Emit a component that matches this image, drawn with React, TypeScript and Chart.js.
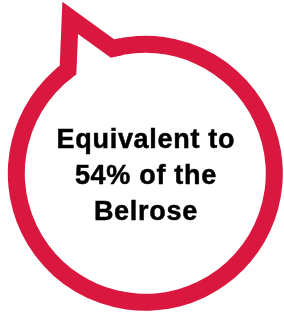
import React, { useEffect, useRef } from "react";
import { Chart, registerables } from "chart.js";

Chart.register(...registerables);

// Ring segments (degrees): the opening under the tail and the drawn outline
const segmentLabels = ["Opening", "Outline"];
const segmentValues = [22.1, 337.9];

// Callout text
const calloutLines = ["Equivalent to", "54% of the", "Belrose"];

const RED = "#d9173f";

const bubblePlugin = {
  id: "bubbleTail",
  afterDatasetsDraw(chart: any) {
    const arc = chart.getDatasetMeta(0).data[0];
    if (!arc) return;
    const { x, y, outerRadius, innerRadius } = arc.getProps(
      ["x", "y", "outerRadius", "innerRadius"],
      true
    );
    const ctx = chart.ctx;
    const mid = (outerRadius + innerRadius) / 2;
    const width = outerRadius - innerRadius;
    const rad = (d: number) => (d * Math.PI) / 180;
    const leftA = rad(-126.8);
    const rightA = rad(-104.7);
    const tipA = rad(-115.8);
    const tipR = outerRadius * 1.255;

    ctx.save();
    ctx.strokeStyle = RED;
    ctx.lineWidth = width;
    ctx.lineJoin = "miter";
    ctx.miterLimit = 20;
    ctx.lineCap = "butt";
    ctx.beginPath();
    ctx.arc(x, y, mid, leftA - rad(4), leftA, false);
    ctx.lineTo(x + Math.cos(tipA) * tipR, y + Math.sin(tipA) * tipR);
    ctx.lineTo(x + Math.cos(rightA) * mid, y + Math.sin(rightA) * mid);
    ctx.arc(x, y, mid, rightA, rightA + rad(4), false);
    ctx.stroke();
    ctx.restore();

    // centred callout text
    ctx.save();
    const size = 27;
    const lh = 36;
    ctx.fillStyle = "#000";
    ctx.strokeStyle = "#000";
    ctx.lineWidth = 0.5;
    ctx.font = `bold ${size}px "Liberation Sans", Arial, sans-serif`;
    ctx.textAlign = "center";
    ctx.textBaseline = "alphabetic";
    try {
      (ctx as any).letterSpacing = "0.7px";
    } catch (e) {}
    const n = calloutLines.length;
    calloutLines.forEach((line, i) => {
      const by = y + (i - (n - 1) / 2) * lh + size * 0.716 / 2 + 1.2;
      ctx.fillText(line, x + 0.6, by);
      ctx.strokeText(line, x + 0.6, by);
    });
    ctx.restore();
  },
};

export default function App() {
  const ref = useRef<HTMLCanvasElement | null>(null);

  useEffect(() => {
    document.body.style.margin = "0";
    const canvas = ref.current;
    if (!canvas) return;
    const chart = new Chart(canvas, {
      type: "doughnut",
      data: {
        labels: segmentLabels,
        datasets: [
          {
            data: segmentValues,
            backgroundColor: ["rgba(0,0,0,0)", RED],
            borderWidth: 0,
            hoverOffset: 0,
          },
        ],
      },
      options: {
        animation: false,
        responsive: false,
        events: [],
        rotation: -36.8,
        cutout: 120.5,
        layout: { padding: { left: 7.8, right: 1.2, top: 35.8, bottom: 1.2 } },
        plugins: {
          legend: { display: false },
          tooltip: { enabled: false },
          title: { display: false },
        },
      },
      plugins: [bubblePlugin],
    });
    return () => chart.destroy();
  }, []);

  return (
    <div style={{ width: 284, height: 312, background: "#fff" }}>
      <canvas ref={ref} width={284} height={312} />
    </div>
  );
}
